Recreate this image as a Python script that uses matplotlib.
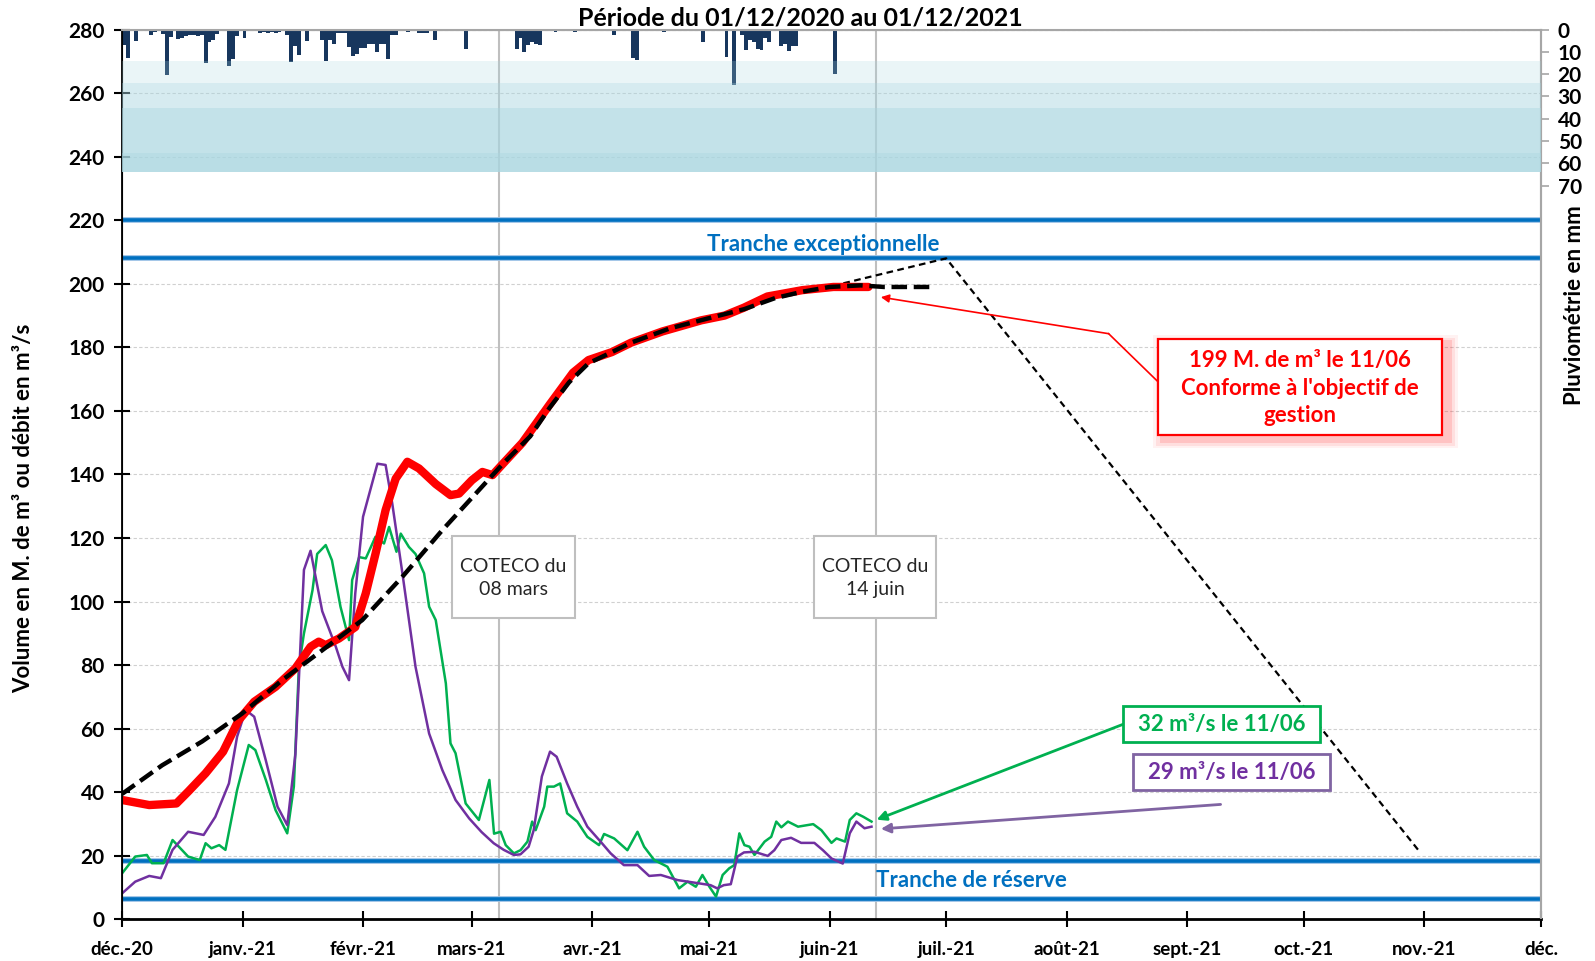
import matplotlib
matplotlib.use("Agg")
import matplotlib.pyplot as plt
from matplotlib.patches import Rectangle

plt.rcParams["font.family"] = ["Lato", "DejaVu Sans"]

# jours comptes depuis le 01/12/2020
month_days = [0, 31, 62, 90, 121, 151, 182, 212, 243, 274, 304, 335, 365]
month_labels = ["déc.-20", "janv.-21", "févr.-21", "mars-21", "avr.-21", "mai-21",
                "juin-21", "juil.-21", "août-21", "sept.-21", "oct.-21", "nov.-21", "déc."]

# volume du lac (M. de m3)
vol_days = [0, 7, 14, 17, 21.5, 26, 30, 34, 39.5, 44.6, 48.5, 50.6, 52.4, 55.8, 60, 62.7,
            65.2, 67.8, 70.4, 73.4, 76.4, 80.7, 84.5, 86.7, 90, 92.7, 95.3, 98, 103, 110,
            116, 120, 126, 131, 139, 149, 155, 160, 166, 175, 183, 192]
vol_values = [37.6, 36, 36.5, 40.2, 46, 52.8, 62.7, 68.5, 73.2, 79, 85.8, 87.4, 86.3, 88.4,
              92, 102.6, 115, 128.8, 138.7, 144, 141.9, 137, 133.5, 134, 138.2, 140.8, 139.8,
              143.4, 150, 162, 172, 176, 178.5, 181.5, 185, 188.5, 190, 192.5, 196, 198, 199, 199]

# courbe objectif
obj_days = [0, 10.3, 20.6, 30.9, 41.2, 51.5, 61.8, 72.1, 82.4, 91, 98, 105, 110, 115, 120,
            126, 131, 141, 152, 160, 168, 175, 182, 190, 196, 208]
obj_values = [39.5, 48.5, 56, 64.8, 75.3, 84.7, 94.2, 107.8, 122.5, 134, 143.4, 152, 161,
              169, 175, 178.5, 181.5, 186, 189.5, 192, 195.5, 197.5, 199, 199.5, 199, 199]

# courbe previsionnelle de vidange
prev_days = [180, 212, 334]
prev_values = [198.5, 208, 21]

# debit vert (m3/s)
green_days = [0, 3.4, 6.4, 7.7, 10.7, 13, 15, 17, 20, 21.5, 23, 25, 26.6, 29.6, 32.6, 34.3,
              37, 39.5, 42.5, 44.2, 45.5, 46.8, 49, 50.2, 52.4, 54, 56.2, 58.4, 59.2, 61,
              62.7, 65.2, 67.4, 68.7, 70.6, 71.7, 73.8, 75.5, 77.7, 79, 80.7, 83.3, 84.5,
              85.8, 88.4, 91.8, 94.5, 95.7, 97.4, 98.7, 100.8, 102.5, 104.3, 105.5, 106.4,
              108.6, 109.4, 111.1, 112.7, 114.5, 117.1, 119.7, 122.7, 124, 126.6, 130,
              132.6, 134.3, 136.9, 140.3, 143.3, 145.5, 147.6, 149.3, 151.1, 152.8, 154.5,
              156.2, 157.5, 158.8, 160.1, 161.4, 162.7, 165.3, 167, 168.3, 169.6, 171.3,
              173.9, 177.8, 179.9, 182.5, 183.8, 186, 187.2, 188.9, 190.7, 192.8]
green_values = [14.5, 19.8, 20.3, 17.7, 17.7, 25, 22.4, 19.8, 18.7, 24, 22.4, 23.4, 21.9,
                40.7, 54.9, 53.3, 43.9, 34.4, 27.1, 41.8, 79.5, 90, 103.6, 115, 117.8, 113,
                98.4, 87.9, 106.8, 114, 113.6, 120.4, 118.3, 123.5, 115.7, 121.4, 117.2, 115,
                108.9, 98.4, 94.2, 74.3, 55.4, 52.3, 36.5, 31.3, 43.9, 27, 27.6, 23.4, 20.8,
                21.8, 24.5, 30.8, 28.1, 35.5, 41.8, 41.8, 42.8, 33.4, 30.8, 26, 23.4, 26.9,
                25.5, 21.8, 27.6, 22.9, 18.7, 16.6, 9.8, 11.9, 10.3, 14, 10.3, 7.2, 14, 16.1,
                17.1, 27.1, 23.4, 22.9, 20.3, 24.5, 26, 30.8, 29, 30.8, 29.2, 30, 28.1, 24.1,
                25.5, 24.5, 31.3, 33.4, 32.3, 30.8]

# debit violet (m3/s)
purple_days = [0, 3.4, 7, 10, 13, 17, 21, 24, 27.5, 29.6, 31.8, 34, 37, 40, 42.5, 44.6,
               46.8, 48.5, 51.5, 55, 56.7, 58.4, 60, 62, 65.7, 67.8, 69.5, 72, 75.5, 79,
               82.4, 85.8, 89.3, 92.5, 95.6, 98.2, 100.8, 102.5, 104.6, 105.9, 108, 110.1,
               111.8, 114.5, 117.1, 119.7, 123.1, 125.7, 129.1, 132.6, 135.6, 138.6, 142.9,
               147.2, 151.4, 153.1, 154.8, 156.6, 158.3, 160, 162.7, 166.1, 167.8, 169.6,
               172.1, 174.7, 178.1, 180.3, 182.5, 185.4, 187.2, 188.9, 191, 192.8]
purple_values = [8.2, 11.9, 13.7, 13, 21.9, 27.6, 26.6, 32.3, 42.8, 57.5, 65.9, 63.8, 50,
                 35.5, 29.7, 52, 110, 116, 97, 85.8, 79.5, 75.3, 102.6, 126.7, 143.4, 143,
                 131, 110, 79.5, 58.5, 47, 37.6, 31.8, 27.5, 24, 21.9, 20.3, 20.5, 22.9, 28.1,
                 45, 52.8, 51.2, 42.8, 35.5, 29.2, 24.5, 20.8, 17.1, 17.1, 13.7, 14, 12.4, 11.6,
                 10.8, 9.8, 10.8, 11.1, 19.8, 21.1, 21.3, 20, 21.8, 25, 25.7, 24.1, 24.1, 21.8,
                 19.2, 17.6, 27.1, 30.8, 28.7, 29.2]

# pluviometrie journaliere (mm)
rain_days = [0, 1, 3, 7, 8, 10, 11, 12, 14, 15, 16, 17, 18, 19, 20, 21, 22, 23, 24, 27, 28,
             29, 31, 35, 36, 37, 38, 39, 40, 42, 43, 44, 45, 47, 51, 52, 53, 54, 55, 56, 57,
             58, 59, 60, 61, 62, 63, 64, 65, 66, 67, 68, 69, 70, 73, 76, 77, 78, 80, 88, 101,
             102, 103, 104, 105, 106, 107, 111, 116, 126, 131, 132, 139, 149, 155, 157, 159,
             160, 161, 162, 163, 164, 165, 166, 169, 170, 171, 172, 173, 183]
rain_mm = [7, 13, 5, 2.4, 1.2, 2, 20.6, 3.4, 4.2, 4, 3, 2.5, 2.4, 3, 2.5, 15, 5.7, 4.5, 2,
           16.4, 13.2, 2.7, 3.9, 1.5, 1.2, 1.5, 1.2, 1.5, 1.2, 2.4, 14.5, 7.2, 11.3, 5, 4.5,
           14, 4.5, 6.4, 1.5, 1.5, 1.5, 8, 11.7, 11, 8.4, 8.4, 6.4, 6.4, 10.2, 6.4, 6.4, 13.4,
           2.4, 2.4, 1, 1.5, 1.5, 1.5, 4.5, 8.7, 8.7, 3.9, 9.9, 6.9, 5.7, 6.4, 6.9, 0.9, 0.9,
           2.4, 13, 13.5, 1, 5.7, 12.4, 25, 2.4, 9.4, 4.5, 5.7, 8.7, 9, 4, 5.7, 7.5, 6.4, 9.6,
           7.2, 7.2, 20]

# bandes de pluviometrie (mm) et leur intensite
band_edges = [13.9, 23.8, 35.0, 55.2, 64.1]
band_alpha = [0.24, 0.47, 0.69, 0.81]

tranche_levels = [220, 208, 18.5, 6.5]
coteco_days = [97, 194]

fig = plt.figure(figsize=(15.95, 9.61), dpi=100)
ax = fig.add_axes([0.0765, 0.0432, 0.8896, 0.9261])

# grille
ax.set_yticks(range(0, 281, 20))
ax.yaxis.grid(True, linestyle=(0, (3, 2)), color="#D0D0D0", linewidth=0.8)
ax.set_axisbelow(True)

# tranches
for lvl in tranche_levels:
    ax.axhline(lvl, color="#9DC3E6", linewidth=4.2, zorder=2)
    ax.axhline(lvl, color="#0070C0", linewidth=2.6, zorder=2)

# lignes COTECO
for d in coteco_days:
    ax.axvline(d, color="#BFBFBF", linewidth=1.5, zorder=1)

ax.plot(prev_days, prev_values, color="black", linewidth=1.6, linestyle=(0, (3, 2)), zorder=3)
ax.plot(green_days, green_values, color="#00B050", linewidth=1.8, zorder=3)
ax.plot(purple_days, purple_values, color="#7030A0", linewidth=1.8, zorder=3)
ax.plot(vol_days, vol_values, color="#FF0000", linewidth=6, solid_capstyle="round", zorder=4)
ax.plot(obj_days, obj_values, color="black", linewidth=3.2, linestyle=(0, (3.5, 1.5)), zorder=5)

# textes des tranches
ax.text(180.5, 212.4, "Tranche exceptionnelle", color="#0070C0", fontsize=16,
        fontweight="bold", ha="center", va="center")
ax.text(218.5, 12.4, "Tranche de réserve", color="#0070C0", fontsize=16,
        fontweight="bold", ha="center", va="center")

# cadres COTECO
for x0, txt in [(84.8, "COTECO du\n08 mars"), (177.9, "COTECO du\n14 juin")]:
    ax.add_patch(Rectangle((x0, 94.7), 31.6, 25.9, facecolor="white", edgecolor="#BFBFBF",
                           linewidth=1.5, zorder=6))
    ax.text(x0 + 15.8, 107.4, txt, fontsize=14, ha="center", va="center",
            color="#262626", linespacing=1.4, zorder=7)

# annotation volume
for k, a in enumerate([0.05, 0.08, 0.12]):
    g = 2.6 - 0.8 * k
    ax.add_patch(Rectangle((266.4 - g + 1.5, 152.3 - g - 1.5), 73.2 + 2 * g, 30.4 + 2 * g,
                           facecolor="red", edgecolor="none", alpha=a, zorder=6, clip_on=False))
ax.add_patch(Rectangle((266.4, 152.3), 73.2, 30.4, facecolor="white", edgecolor="red",
                       linewidth=1.6, zorder=7))
ax.text(303, 167.2, "199 M. de m³ le 11/06\nConforme à l'objectif de\ngestion", color="red",
        fontsize=16, fontweight="bold", ha="center", va="center", linespacing=1.4, zorder=8)
ax.plot([266.4, 253.8], [169.3, 184.3], color="red", linewidth=1.2, zorder=6)
ax.annotate("", xy=(195.2, 195.8), xytext=(253.8, 184.3),
            arrowprops=dict(arrowstyle="-|>", color="red", lw=1.2, mutation_scale=12,
                            shrinkA=0, shrinkB=0), zorder=6)

# annotation debits
ax.add_patch(Rectangle((257.5, 55.7), 50.7, 11.5, facecolor="white", edgecolor="#00B050",
                       linewidth=2, zorder=7))
ax.text(282.8, 61.3, "32 m³/s le 11/06", color="#00B050", fontsize=16, fontweight="bold",
        ha="center", va="center", zorder=8)
ax.annotate("", xy=(194.1, 31.4), xytext=(257.5, 61.4),
            arrowprops=dict(arrowstyle="-|>", color="#00B050", lw=2, mutation_scale=14,
                            shrinkA=0, shrinkB=0), zorder=6)

ax.add_patch(Rectangle((260, 40.6), 50.8, 11.6, facecolor="white", edgecolor="#8064A2",
                       linewidth=2, zorder=7))
ax.text(285.4, 46.1, "29 m³/s le 11/06", color="#7030A0", fontsize=16, fontweight="bold",
        ha="center", va="center", zorder=8)
ax.annotate("", xy=(195.2, 28.5), xytext=(282.6, 36.2),
            arrowprops=dict(arrowstyle="-|>", color="#8064A2", lw=2, mutation_scale=14,
                            shrinkA=0, shrinkB=0), zorder=6)

ax.set_xlim(0, 365)
ax.set_ylim(0, 280)
ax.set_xticks(month_days)
ax.set_xticklabels(month_labels)
ax.tick_params(axis="both", direction="inout", length=11, width=1.5)
ax.tick_params(axis="x", pad=10, labelsize=13.5)
ax.tick_params(axis="y", pad=7, labelsize=15)
for lab in ax.get_xticklabels() + ax.get_yticklabels():
    lab.set_fontweight("bold")

ax.spines["left"].set_linewidth(1.3)
ax.spines["bottom"].set_linewidth(2)
ax.spines["top"].set_color("#A6A6A6")
ax.spines["top"].set_linewidth(1.5)
ax.spines["right"].set_color("#A6A6A6")
ax.spines["right"].set_linewidth(1.5)

# axe secondaire : pluviometrie
ax2 = ax.twinx()
ax2.bar([d + 0.5 for d in rain_days], rain_mm, width=1.0, color="#17365D", zorder=2)
for i in range(len(band_alpha)):
    ax2.axhspan(band_edges[i], band_edges[i + 1], color="#A9D6E0", alpha=band_alpha[i],
                linewidth=0, zorder=3)
ax2.set_ylim(399, 0)
ax2.set_yticks(range(0, 71, 10))
ax2.tick_params(axis="y", direction="out", length=6, width=1.2, color="#A6A6A6",
                labelsize=15, pad=6)
for lab in ax2.get_yticklabels():
    lab.set_fontweight("bold")
ax2.spines["right"].set_color("#A6A6A6")
ax2.spines["right"].set_linewidth(1.5)
ax2.spines["top"].set_color("#A6A6A6")

fig.text(0.5016, 0.981, "Période du 01/12/2020 au 01/12/2021", fontsize=18,
         fontweight="bold", ha="center", va="center")
fig.text(0.0145, 0.471, "Volume en M. de m³ ou débit en m³/s", fontsize=16,
         fontweight="bold", rotation=90, ha="center", va="center")
fig.text(0.987, 0.683, "Pluviométrie en mm", fontsize=16, fontweight="bold",
         rotation=90, ha="center", va="center")

fig.savefig("out.png", dpi=100)
